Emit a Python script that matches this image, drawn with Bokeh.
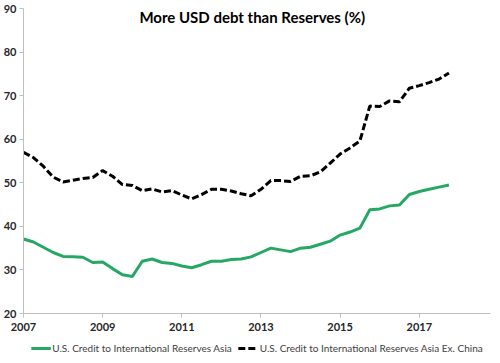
from bokeh.plotting import figure
from bokeh.layouts import column
from bokeh.models import FixedTicker, Label, Legend, LegendItem, Range1d
from bokeh.embed import file_html
from bokeh.resources import INLINE

quarters = [2007.00, 2007.25, 2007.50, 2007.75, 2008.00, 2008.25, 2008.50, 2008.75,
            2009.00, 2009.25, 2009.50, 2009.75, 2010.00, 2010.25, 2010.50, 2010.75,
            2011.00, 2011.25, 2011.50, 2011.75, 2012.00, 2012.25, 2012.50, 2012.75,
            2013.00, 2013.25, 2013.50, 2013.75, 2014.00, 2014.25, 2014.50, 2014.75,
            2015.00, 2015.25, 2015.50, 2015.75, 2016.00, 2016.25, 2016.50, 2016.75,
            2017.00, 2017.25, 2017.50, 2017.75]

asia = [37.1, 36.4, 35.2, 34.0, 33.1, 33.0, 32.9, 31.7,
        31.8, 30.3, 28.9, 28.5, 32.0, 32.5, 31.7, 31.5,
        30.9, 30.5, 31.2, 32.0, 32.0, 32.4, 32.5, 33.0,
        34.0, 35.0, 34.6, 34.2, 35.0, 35.2, 35.9, 36.6,
        38.0, 38.7, 39.6, 43.8, 44.0, 44.7, 44.9, 47.3,
        48.0, 48.5, 49.0, 49.5]

asia_ex_china = [57.0, 55.8, 53.8, 51.3, 50.2, 50.6, 51.0, 51.2,
                 52.8, 51.5, 49.6, 49.4, 48.2, 48.6, 47.9, 48.2,
                 47.2, 46.3, 47.3, 48.5, 48.5, 48.1, 47.5, 47.0,
                 48.5, 50.5, 50.5, 50.3, 51.5, 51.6, 52.5, 54.5,
                 56.6, 58.0, 59.6, 67.6, 67.5, 68.8, 68.6, 71.7,
                 72.3, 73.0, 73.8, 75.2]

x_ticks = [2007, 2009, 2011, 2013, 2015, 2017]
y_ticks = [20, 30, 40, 50, 60, 70, 80, 90]

title_text = "More USD debt than Reserves (%)"
label_asia = "U.S. Credit to International Reserves Asia"
label_ex = "U.S. Credit to International Reserves Asia Ex. China"

FONT = "Lato"
GREEN = "#26a865"
DASH = "7 3"

p = figure(width=492, height=337, output_backend="svg", toolbar_location=None,
           x_range=Range1d(2007, 2018.8), y_range=Range1d(20, 90),
           min_border_left=4, min_border_right=2, min_border_top=8, min_border_bottom=24)
p.outline_line_color = None
p.xgrid.visible = False
p.ygrid.visible = False
p.background_fill_color = "white"
p.border_fill_color = "white"

for ax in (p.xaxis[0], p.yaxis[0]):
    ax.axis_line_color = "#bfbfbf"
    ax.axis_line_width = 1
    ax.major_tick_line_color = "#bfbfbf"
    ax.major_tick_in = 0
    ax.major_tick_out = 4
    ax.minor_tick_line_color = None
    ax.major_label_text_font = FONT
    ax.major_label_text_font_style = "bold"
    ax.major_label_text_font_size = "11px"
    ax.major_label_text_color = "#262626"
p.xaxis[0].ticker = FixedTicker(ticks=x_ticks)
p.yaxis[0].ticker = FixedTicker(ticks=y_ticks)
p.xaxis[0].major_label_standoff = 5
p.yaxis[0].major_label_standoff = 3

p.line(quarters, asia, line_color=GREEN, line_width=3)
p.line(quarters, asia_ex_china, line_color="black", line_width=3, line_dash=DASH)

p.add_layout(Label(x=2012.78, y=88.0, text=title_text, text_font=FONT,
                   text_font_style="bold", text_font_size="15px", text_color="black",
                   text_align="center", text_baseline="middle"))

# legend strip below the chart (its renderers sit outside the strip's visible range)
lp = figure(width=492, height=22, output_backend="svg", toolbar_location=None,
            x_range=Range1d(0, 1), y_range=Range1d(0, 1),
            min_border=0)
lp.axis.visible = False
lp.grid.visible = False
lp.outline_line_color = None
lr1 = lp.line([-5, -4], [-5, -5], line_color=GREEN, line_width=3)
lr2 = lp.line([-5, -4], [-5, -5], line_color="black", line_width=3, line_dash=DASH)
legend = Legend(items=[LegendItem(label=label_asia, renderers=[lr1]),
                       LegendItem(label=label_ex, renderers=[lr2])],
                orientation="horizontal", location="center",
                label_text_font=FONT, label_text_font_size="10px",
                label_text_color="#404040", glyph_width=20, glyph_height=14,
                label_standoff=2, spacing=6, padding=2, margin=0,
                border_line_color=None, background_fill_alpha=0)
lp.add_layout(legend)

open("out.html", "w").write(file_html(column(p, lp, spacing=0), INLINE))
